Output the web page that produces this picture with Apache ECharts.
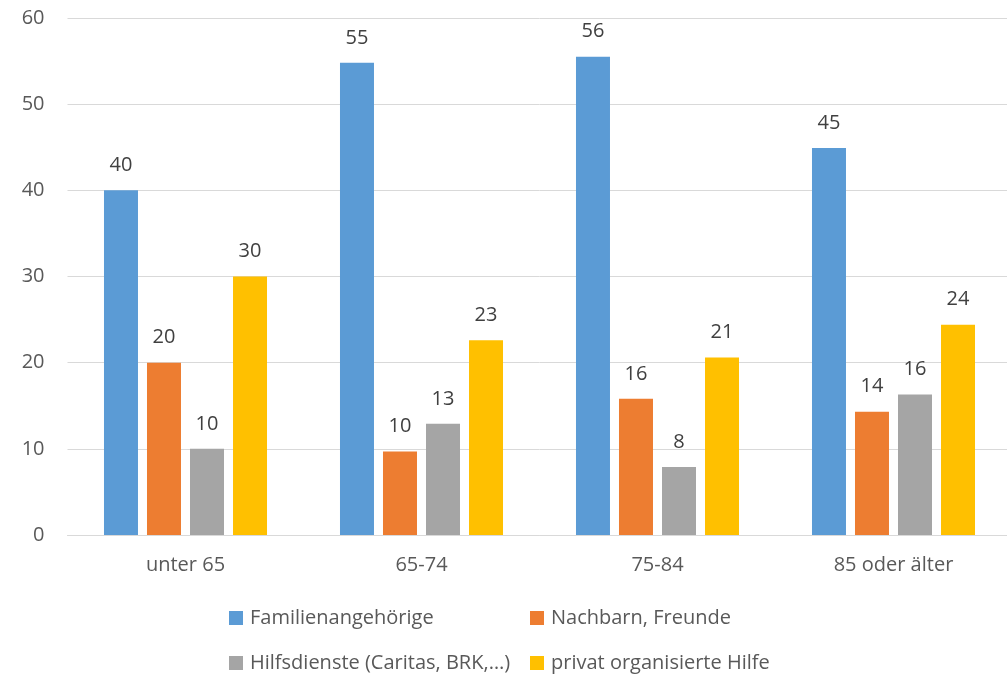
<!DOCTYPE html>
<html>
<head>
<meta charset="utf-8">
<script src="https://cdn.jsdelivr.net/npm/echarts@6/dist/echarts.min.js"></script>
<style>
html,body{margin:0;padding:0;background:#fff;overflow:hidden;width:1007px;height:677px;}
#chart{width:1012px;height:677px;}
</style>
</head>
<body>
<div id="chart"></div>
<script>
const categories = ['unter 65', '65-74', '75-84', '85 oder älter'];
const seriesNames = ['Familienangehörige', 'Nachbarn, Freunde', 'Hilfsdienste (Caritas, BRK,…)', 'privat organisierte Hilfe'];
const familie = [40.0, 54.8, 55.5, 44.9];
const nachbarn = [20.0, 9.7, 15.8, 14.3];
const hilfsdienste = [10.0, 12.9, 7.9, 16.3];
const privat = [30.0, 22.6, 20.6, 24.4];
const colors = ['#5b9bd5', '#ed7d31', '#a5a5a5', '#ffc000'];

const FONT = '"Open Sans", sans-serif';
const values = [familie, nachbarn, hilfsdienste, privat];

const chart = echarts.init(document.getElementById('chart'), null, {renderer: 'canvas'});

const legendPos = [
  {left: 229, top: 608},
  {left: 530, top: 608},
  {left: 229, top: 653},
  {left: 530, top: 653}
];

chart.setOption({
  animation: false,
  backgroundColor: '#ffffff',
  color: colors,
  grid: {left: 67.5, right: 0.5, top: 18, bottom: 142, containLabel: false},
  legend: seriesNames.map((n, i) => ({
    data: [n],
    left: legendPos[i].left,
    top: legendPos[i].top,
    icon: 'rect',
    itemWidth: 14,
    itemHeight: 14,
    itemGap: 0,
    padding: 0,
    textStyle: {fontFamily: FONT, fontSize: 20, color: '#595959', padding: [0, 0, 0, 2]}
  })),
  xAxis: {
    type: 'category',
    data: categories,
    axisLine: {lineStyle: {color: '#d9d9d9', width: 1}},
    axisTick: {show: false},
    axisLabel: {fontFamily: FONT, fontSize: 20, color: '#595959', margin: 20}
  },
  yAxis: {
    type: 'value',
    min: 0,
    max: 60,
    interval: 10,
    axisLine: {show: false},
    axisTick: {show: false},
    splitLine: {lineStyle: {color: '#d9d9d9', width: 1}},
    axisLabel: {fontFamily: FONT, fontSize: 20, color: '#595959', margin: 23}
  },
  series: seriesNames.map((n, i) => ({
    name: n,
    type: 'bar',
    data: values[i],
    barWidth: 34,
    barGap: '26.5%',
    itemStyle: {color: colors[i]},
    label: {
      show: true,
      position: 'top',
      distance: 15,
      fontFamily: FONT,
      fontSize: 20,
      color: '#404040',
      formatter: p => Math.round(p.value)
    }
  }))
});
</script>
</body>
</html>
